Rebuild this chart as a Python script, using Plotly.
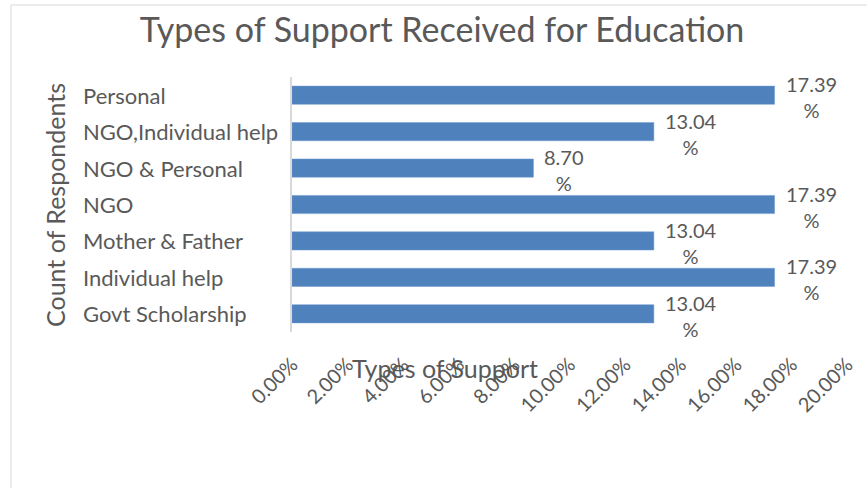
import plotly.graph_objects as go

# Support categories, listed top to bottom
categories = [
    "Personal",
    "NGO,Individual help",
    "NGO & Personal",
    "NGO",
    "Mother & Father",
    "Individual help",
    "Govt Scholarship",
]
# Share of respondents (%)
shares = [17.39, 13.04, 8.70, 17.39, 13.04, 17.39, 13.04]
tick_values = [0, 2, 4, 6, 8, 10, 12, 14, 16, 18, 20]
tick_labels = [f"{t:.2f}%" for t in tick_values]

FONT = "Lato"
GREY = "#595959"
BAR = "#4f81bd"

W, H = 867, 488
L, R, T, B = 292, 20, 77, 156
pw = W - L - R
ph = H - T - B


def px_x(px):
    return (px - L) / pw


def px_y(py):
    return (H - B - py) / ph


fig = go.Figure(
    go.Bar(
        x=shares,
        y=categories,
        orientation="h",
        marker=dict(color=BAR, line=dict(color="#6f9bd1", width=0.5)),
        hoverinfo="x+y",
    )
)

annotations = []
# Left-aligned category labels
for c in categories:
    annotations.append(dict(
        x=px_x(81), xref="paper", y=c, yref="y",
        text=c, showarrow=False, xanchor="left", yanchor="middle",
        font=dict(family=FONT, size=22, color=GREY),
    ))
# Value labels wrapped on two lines
for c, v in zip(categories, shares):
    annotations.append(dict(
        x=v, xref="x", y=c, yref="y",
        text=f"{v:.2f}<br>%", showarrow=False, xanchor="left", yanchor="middle",
        align="center", xshift=9, yshift=-2,
        font=dict(family=FONT, size=20, color=GREY),
    ))
# Axis titles
annotations.append(dict(
    x=px_x(55), xref="paper", y=px_y(205), yref="paper",
    text="Count of Respondents", showarrow=False, textangle=-90,
    xanchor="center", yanchor="middle",
    font=dict(family=FONT, size=25, color=GREY),
))
annotations.append(dict(
    x=px_x(445), xref="paper", y=px_y(368), yref="paper",
    text="Types of Support", showarrow=False,
    xanchor="center", yanchor="middle",
    font=dict(family=FONT, size=25, color=GREY),
))

fig.update_layout(
    width=W, height=H,
    margin=dict(l=L, r=R, t=T, b=B),
    paper_bgcolor="white", plot_bgcolor="white",
    showlegend=False,
    bargap=0.5,
    title=dict(
        text="Types of Support Received for Education",
        x=442 / W, xref="container", xanchor="center",
        y=1 - 30 / H, yref="container", yanchor="middle",
        font=dict(family=FONT, size=34, color=GREY),
    ),
    xaxis=dict(
        range=[0, 20], tickvals=tick_values, ticktext=tick_labels,
        tickangle=-45, showgrid=False, zeroline=False, showline=False,
        ticks="outside", ticklen=12, tickcolor="rgba(0,0,0,0)",
        tickfont=dict(family=FONT, size=20, color=GREY),
        automargin=False,
    ),
    yaxis=dict(
        range=[len(categories) - 0.5, -0.5], showticklabels=False,
        showgrid=False, zeroline=False, showline=True,
        linecolor="#d9d9d9", linewidth=2, ticks="", automargin=False,
    ),
    annotations=annotations,
    shapes=[dict(
        type="rect", xref="paper", yref="paper",
        x0=px_x(11), x1=px_x(W + 20), y0=px_y(H + 20), y1=px_y(5),
        line=dict(color="#d9d9d9", width=1), fillcolor="rgba(0,0,0,0)",
        layer="below",
    )],
)

fig.write_html("out.html")
